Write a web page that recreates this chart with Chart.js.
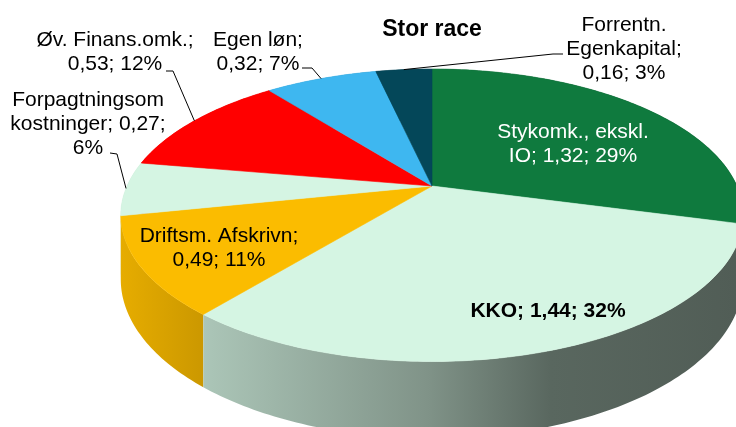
<!DOCTYPE html>
<html>
<head>
<meta charset="utf-8">
<script src="https://cdn.jsdelivr.net/npm/chart.js@4.4.0/dist/chart.umd.min.js"></script>
<style>
  html, body { margin: 0; padding: 0; background: #fff; }
  #wrap { width: 736px; height: 427px; position: relative; }
</style>
</head>
<body>
<div id="wrap"><canvas id="pieChart"></canvas></div>
<script>
// data
const categories = ['Stykomk., ekskl. IO', 'KKO', 'Driftsm. Afskrivn', 'Forpagtningsomkostninger', 'Øv. Finans.omk.', 'Egen løn', 'Forrentn. Egenkapital'];
const values = [1.32, 1.44, 0.49, 0.27, 0.53, 0.32, 0.16];
const percents = [29, 32, 11, 6, 12, 7, 3];
const topColors = ['#0f7a3e', '#d5f5e3', '#fbbc00', '#d5f5e3', '#ff0000', '#3eb7f0', '#044759'];

const FONT = "'Liberation Sans', Arial, sans-serif";

// label placement (text centre of first line, wrap width, optional leader start)
const labelLayout = [
  { x: 573, y: 132, w: 160, color: '#fff' },
  { x: 548, y: 311, w: 300, bold: true },
  { x: 219, y: 236, w: 165 },
  { x: 88, y: 100, w: 160, leader: [[110, 153], [117, 154]] },
  { x: 115, y: 40, w: 165, leader: [[166, 71], [173, 71]] },
  { x: 258, y: 40, w: 120, leader: [[302, 68], [312, 68]] },
  { x: 624, y: 25, w: 130, leader: [[563, 54], [553, 54]] }
];

function fmt(v) { return v.toFixed(2).replace('.', ','); }

function wrapText(ctx, text, maxW) {
  const words = text.split(' ');
  const lines = [];
  let cur = '';
  words.forEach(function(word) {
    let test = cur ? cur + ' ' + word : word;
    if (ctx.measureText(test).width <= maxW) { cur = test; return; }
    if (cur) { lines.push(cur); cur = ''; }
    // break long words by character
    let piece = '';
    for (const ch of word) {
      if (ctx.measureText(piece + ch).width > maxW && piece) { lines.push(piece); piece = ch; }
      else piece += ch;
    }
    cur = piece;
  });
  if (cur) lines.push(cur);
  return lines;
}

function shade(hex, f) {
  const n = parseInt(hex.slice(1), 16);
  const r = Math.round(((n >> 16) & 255) * f), g = Math.round(((n >> 8) & 255) * f), b = Math.round((n & 255) * f);
  return 'rgb(' + r + ',' + g + ',' + b + ')';
}

const pie3d = {
  id: 'pie3d',
  beforeDatasetsDraw(chart) {
    const ctx = chart.ctx;
    const arcs = chart.getDatasetMeta(0).data;
    const colors = chart.data.datasets[0].backgroundColor;
    const cx = arcs[0].x, cy = arcs[0].y, R = arcs[0].outerRadius;
    const rx = R * 2.033, ry = R * 0.936, depth = R * 0.41, pers = 5;

    const P = function(a, r, dz) {
      const z = r * Math.sin(a);
      const s = pers / (pers - z);
      return [cx + rx * r * Math.cos(a) * s, cy + (ry * r * Math.sin(a) + depth * dz) * s];
    };
    const samples = function(a0, a1) {
      const n = Math.max(8, Math.ceil((a1 - a0) * 60));
      const out = [];
      for (let i = 0; i <= n; i++) out.push(a0 + (a1 - a0) * i / n);
      return out;
    };

    ctx.save();

    // side walls, back to front
    const order = arcs.map(function(a, i) { return i; }).sort(function(i, j) {
      const mi = (arcs[i].startAngle + arcs[i].endAngle) / 2, mj = (arcs[j].startAngle + arcs[j].endAngle) / 2;
      return Math.sin(mi) - Math.sin(mj);
    });
    const gx0 = cx - rx * 1.03, gx1 = cx + rx;
    order.forEach(function(i) {
      const arc = arcs[i];
      const angs = samples(arc.startAngle, arc.endAngle);
      const grad = ctx.createLinearGradient(gx0, 0, gx1, 0);
      grad.addColorStop(0, shade(colors[i], 0.92));
      grad.addColorStop(0.15, shade(colors[i], 0.8));
      grad.addColorStop(0.5, shade(colors[i], 0.6));
      grad.addColorStop(0.7, shade(colors[i], 0.42));
      grad.addColorStop(1, shade(colors[i], 0.38));
      ctx.beginPath();
      angs.forEach(function(a, k) { const p = P(a, 1, 0); k ? ctx.lineTo(p[0], p[1]) : ctx.moveTo(p[0], p[1]); });
      angs.slice().reverse().forEach(function(a) { const p = P(a, 1, 1); ctx.lineTo(p[0], p[1]); });
      ctx.closePath();
      ctx.fillStyle = grad;
      ctx.fill();
    });

    // top faces
    arcs.forEach(function(arc, i) {
      const angs = samples(arc.startAngle, arc.endAngle);
      ctx.beginPath();
      ctx.moveTo(cx, cy);
      angs.forEach(function(a) { const p = P(a, 1, 0); ctx.lineTo(p[0], p[1]); });
      ctx.closePath();
      ctx.fillStyle = colors[i];
      ctx.fill();
      ctx.strokeStyle = colors[i];
      ctx.lineWidth = 0.6;
      ctx.stroke();
    });

    // data labels and leader lines
    ctx.textAlign = 'center';
    ctx.textBaseline = 'middle';
    arcs.forEach(function(arc, i) {
      const lay = labelLayout[i];
      ctx.font = (lay.bold ? 'bold ' : '') + '21px ' + FONT;
      ctx.fillStyle = lay.color || '#000';
      const text = categories[i] + '; ' + fmt(values[i]) + '; ' + percents[i] + '%';
      wrapText(ctx, text, lay.w).forEach(function(line, k) {
        ctx.fillText(line, lay.x, lay.y + k * 24);
      });
      if (lay.leader) {
        const end = P((arc.startAngle + arc.endAngle) / 2, 1, 0);
        ctx.beginPath();
        ctx.moveTo(lay.leader[0][0], lay.leader[0][1]);
        ctx.lineTo(lay.leader[1][0], lay.leader[1][1]);
        ctx.lineTo(end[0], end[1]);
        ctx.strokeStyle = '#000';
        ctx.lineWidth = 1;
        ctx.stroke();
      }
    });

    ctx.restore();
    return false;
  }
};

new Chart(document.getElementById('pieChart'), {
  type: 'pie',
  data: {
    labels: categories,
    datasets: [{
      data: values,
      backgroundColor: topColors,
      borderWidth: 0,
      hoverOffset: 0
    }]
  },
  options: {
    responsive: true,
    maintainAspectRatio: false,
    animation: false,
    events: [],
    radius: 150,
    layout: { padding: { left: 128, right: 0, top: 0, bottom: 98.6 } },
    plugins: {
      legend: { display: false },
      tooltip: { enabled: false },
      title: {
        display: true,
        text: 'Stor race',
        fullSize: false,
        color: '#000',
        font: { family: FONT, size: 23, weight: 'bold' },
        padding: { top: 16, bottom: 0 }
      }
    }
  },
  plugins: [pie3d]
});
</script>
</body>
</html>
